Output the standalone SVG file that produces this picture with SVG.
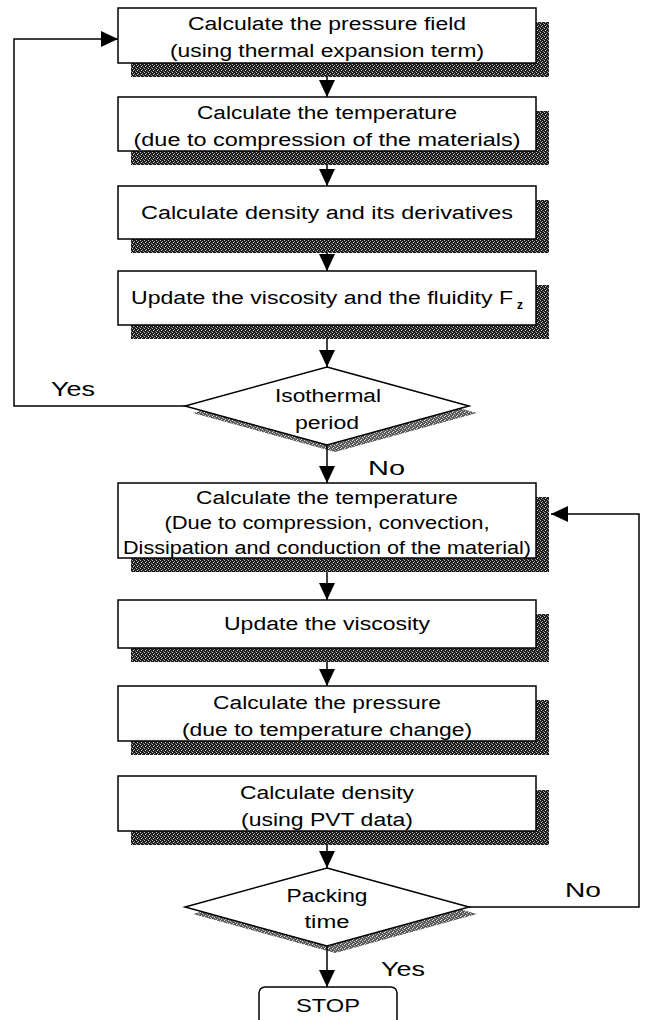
<svg xmlns="http://www.w3.org/2000/svg" width="645" height="1020" viewBox="0 0 645 1020">
<defs>
<pattern id="stip" width="4" height="4" patternUnits="userSpaceOnUse">
<rect width="4" height="4" fill="#1e1e1e"/>
<rect x="0" y="0" width="1" height="1" fill="#bdbdbd"/>
<rect x="2" y="1" width="1" height="1" fill="#9a9a9a"/>
<rect x="1" y="2" width="1" height="1" fill="#cfcfcf"/>
<rect x="3" y="3" width="1" height="1" fill="#8a8a8a"/>
</pattern>
<pattern id="stip2" width="4" height="4" patternUnits="userSpaceOnUse">
<rect width="4" height="4" fill="#5a5a5a"/>
<rect x="0" y="0" width="1" height="1" fill="#e0e0e0"/>
<rect x="2" y="1" width="1" height="1" fill="#c8c8c8"/>
<rect x="1" y="3" width="1" height="1" fill="#d8d8d8"/>
<rect x="3" y="2" width="1" height="1" fill="#aaaaaa"/>
</pattern>
<marker id="ah" markerUnits="userSpaceOnUse" markerWidth="17" markerHeight="16" refX="17" refY="8" orient="auto" viewBox="0 0 17 16">
<path d="M0,0 L17,8 L0,16 z" fill="#000"/>
</marker>
<style>
.box{fill:#fff;stroke:#000;stroke-width:1.5}
.sh{fill:url(#stip)}
.dsh{fill:url(#stip2)}
.t{font-family:"Liberation Sans",Arial,sans-serif;font-size:18px;fill:#000;text-anchor:middle}
.l{font-family:"Liberation Sans",Arial,sans-serif;font-size:20px;fill:#000}
.c{fill:none;stroke:#000;stroke-width:1.5}
</style>
</defs>
<rect width="645" height="1020" fill="#fff"/>

<g id="n1">
<rect class="sh" x="131" y="22" width="418" height="55"/>
<rect class="box" x="118" y="8" width="418" height="55"/>
<text class="t" x="327" y="30" textLength="278" lengthAdjust="spacingAndGlyphs">Calculate the pressure field</text>
<text class="t" x="327" y="57" textLength="314" lengthAdjust="spacingAndGlyphs">(using thermal expansion term)</text>
</g>
<g id="n2">
<rect class="sh" x="131" y="111" width="418" height="54"/>
<rect class="box" x="118" y="97" width="418" height="54"/>
<text class="t" x="327" y="119" textLength="260" lengthAdjust="spacingAndGlyphs">Calculate the temperature</text>
<text class="t" x="327" y="146" textLength="387" lengthAdjust="spacingAndGlyphs">(due to compression of the materials)</text>
</g>
<g id="n3">
<rect class="sh" x="131" y="200" width="418" height="53"/>
<rect class="box" x="118" y="186" width="418" height="53"/>
<text class="t" x="327" y="219" textLength="372" lengthAdjust="spacingAndGlyphs">Calculate density and its derivatives</text>
</g>
<g id="n4">
<rect class="sh" x="131" y="285" width="418" height="54"/>
<rect class="box" x="118" y="271" width="418" height="54"/>
<text class="t" x="322" y="304" textLength="382" lengthAdjust="spacingAndGlyphs">Update the viscosity and the fluidity F</text>
<text x="517" y="309" font-family="Liberation Sans, Arial, sans-serif" font-size="12" font-weight="bold">z</text>
</g>
<g id="d1">
<polygon class="dsh" points="335,374 477,413 335,452 193,413"/>
<polygon class="box" points="327,367 469,406 327,445 185,406"/>
<text class="t" x="328" y="402" textLength="106" lengthAdjust="spacingAndGlyphs">Isothermal</text>
<text class="t" x="327" y="429" textLength="64" lengthAdjust="spacingAndGlyphs">period</text>
</g>
<g id="n5">
<rect class="sh" x="131" y="497" width="418" height="75"/>
<rect class="box" x="118" y="483" width="418" height="75"/>
<text class="t" x="327" y="504" textLength="262" lengthAdjust="spacingAndGlyphs">Calculate the temperature</text>
<text class="t" x="327" y="529" textLength="325" lengthAdjust="spacingAndGlyphs">(Due to compression, convection,</text>
<text class="t" x="327" y="554" textLength="408" lengthAdjust="spacingAndGlyphs">Dissipation and conduction of the material)</text>
</g>
<g id="n6">
<rect class="sh" x="131" y="614" width="418" height="48"/>
<rect class="box" x="118" y="600" width="418" height="48"/>
<text class="t" x="327" y="630" textLength="206" lengthAdjust="spacingAndGlyphs">Update the viscosity</text>
</g>
<g id="n7">
<rect class="sh" x="131" y="700" width="418" height="55"/>
<rect class="box" x="118" y="686" width="418" height="55"/>
<text class="t" x="327" y="709" textLength="228" lengthAdjust="spacingAndGlyphs">Calculate the pressure</text>
<text class="t" x="327" y="736" textLength="290" lengthAdjust="spacingAndGlyphs">(due to temperature change)</text>
</g>
<g id="n8">
<rect class="sh" x="131" y="790" width="418" height="55"/>
<rect class="box" x="118" y="776" width="418" height="55"/>
<text class="t" x="327" y="799" textLength="174" lengthAdjust="spacingAndGlyphs">Calculate density</text>
<text class="t" x="327" y="826" textLength="172" lengthAdjust="spacingAndGlyphs">(using PVT data)</text>
</g>
<g id="d2">
<polygon class="dsh" points="335,875 477,914 335,953 193,914"/>
<polygon class="box" points="327,868 469,907 327,946 185,907"/>
<text class="t" x="327" y="902" textLength="81" lengthAdjust="spacingAndGlyphs">Packing</text>
<text class="t" x="327" y="928" textLength="45" lengthAdjust="spacingAndGlyphs">time</text>
</g>
<g id="stop">
<rect class="box" x="259" y="987" width="138" height="50" rx="6"/>
<text class="t" x="328" y="1012" textLength="64" lengthAdjust="spacingAndGlyphs">STOP</text>
</g>

<g id="connectors">
<line class="c" x1="327" y1="77" x2="327" y2="97" marker-end="url(#ah)"/>
<line class="c" x1="327" y1="165" x2="327" y2="186" marker-end="url(#ah)"/>
<line class="c" x1="327" y1="253" x2="327" y2="271" marker-end="url(#ah)"/>
<line class="c" x1="327" y1="339" x2="327" y2="367" marker-end="url(#ah)"/>
<polyline class="c" points="185,406 14,406 14,39 118,39" marker-end="url(#ah)"/>
<line class="c" x1="327" y1="445" x2="327" y2="483" marker-end="url(#ah)"/>
<line class="c" x1="327" y1="572" x2="327" y2="600" marker-end="url(#ah)"/>
<line class="c" x1="327" y1="662" x2="327" y2="686" marker-end="url(#ah)"/>
<line class="c" x1="327" y1="845" x2="327" y2="868" marker-end="url(#ah)"/>
<line class="c" x1="327" y1="946" x2="327" y2="987" marker-end="url(#ah)"/>
<polyline class="c" points="469,907 639,907 639,514 551,514" marker-end="url(#ah)"/>
<text class="l" x="51" y="396" textLength="44" lengthAdjust="spacingAndGlyphs">Yes</text>
<text class="l" x="368" y="475" textLength="37" lengthAdjust="spacingAndGlyphs">No</text>
<text class="l" x="565" y="897" textLength="36" lengthAdjust="spacingAndGlyphs">No</text>
<text class="l" x="381" y="976" textLength="44" lengthAdjust="spacingAndGlyphs">Yes</text>
</g>
</svg>
